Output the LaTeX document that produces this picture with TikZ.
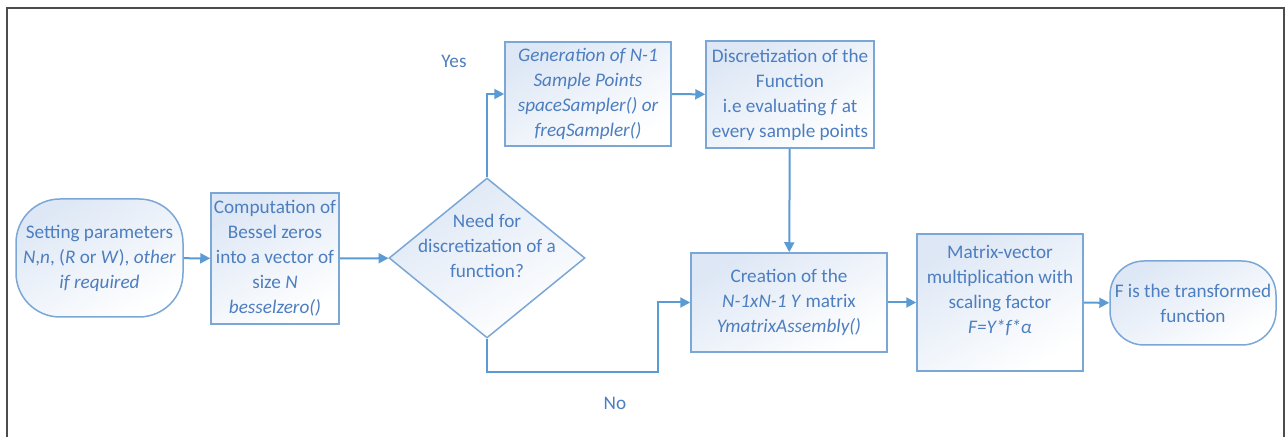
\documentclass[tikz,border=0pt]{standalone}
\usepackage{fontspec}
\setmainfont{Carlito}
\definecolor{ln}{HTML}{5B9BD5}
\definecolor{edge}{HTML}{7BA7D7}
\definecolor{tx}{HTML}{4D7EBF}
\definecolor{pale}{HTML}{DDE7F5}
\usetikzlibrary{arrows.meta}
\usetikzlibrary{shapes.geometric}

\begin{document}
\begin{tikzpicture}[x=0.5pt, y=-0.5pt,
	font=\fontsize{9.6}{12.5}\selectfont, text=tx,
	base/.style={draw=edge, line width=0.75pt, top color=pale, bottom color=white, shading angle=30, inner sep=0pt, align=center},
	proc/.style={base},
	term/.style={base, rounded corners=#1},
	decide/.style={base, diamond},
	flow/.style={draw=ln, line width=1pt, -{Triangle[length=5pt,width=5pt]}}]
	\useasboundingbox (0,0) rectangle (1286,437);
	% frame
	\draw[gray!60!black, line width=1pt] (7,437) -- (7,8) -- (1284,8) -- (1284,437);
	% nodes
	\node[term=22pt, minimum width=83.5pt, minimum height=59pt] (start) at (99.5,258)
	{Setting parameters\\ \textit{N},\textit{n}, (\textit{R} or \textit{W}), \textit{other}\\ \textit{if required}};
	\node[proc, minimum width=64pt, minimum height=65.5pt] (bessel) at (275,258.5)
	{Computation of\\ Bessel zeros\\ into a vector of\\ size \textit{N}\\ \textit{besselzero()}};
	\node[decide, minimum width=98pt, minimum height=80pt,
	label={[yshift=6pt, align=center]center:{Need for\\ discretization of a\\ function?}}] (need) at (487,258) {};
	\node[proc, minimum width=83pt, minimum height=52pt] (gen) at (588,94)
	{\itshape Generation of N-1\\ \itshape Sample Points\\ \itshape spaceSampler() or\\ \itshape freqSampler()};
	\node[proc, minimum width=84pt, minimum height=53.5pt] (disc) at (790,94.5)
	{Discretization of the\\ Function\\ i.e evaluating \textit{f} at\\ every sample points};
	\node[proc, minimum width=98pt, minimum height=49.5pt] (create) at (789,302.5)
	{Creation of the\\ \textit{N-1xN-1 Y} matrix\\ \textit{YmatrixAssembly()}};
	\node[proc, minimum width=83pt, minimum height=68.5pt,
	label={[yshift=6pt, align=center]center:{Matrix-vector\\ multiplication with\\ scaling factor\\ \textit{F=Y*f*α}}}] (mvm) at (1000,302.5) {};
	\node[term=17pt, minimum width=83pt, minimum height=42pt] (final) at (1193,303)
	{F is the transformed\\ function};
	\node (yes) at (454,61) {Yes};
	\node (no) at (615,403) {No};
	\coordinate (nobend) at (658,372);
	% connectors
	\draw[flow] (start) -- (bessel);
	\draw[flow] (bessel) -- (need);
	\draw[flow] (need.north) |- (gen.west);
	\draw[flow] (gen) -- (disc);
	\draw[flow] (disc) -- (create);
	\draw[flow] (need.south) |- (nobend) |- (create.west);
	\draw[flow] (create) -- (mvm);
	\draw[flow] (mvm) -- (final);
\end{tikzpicture}
\end{document}
